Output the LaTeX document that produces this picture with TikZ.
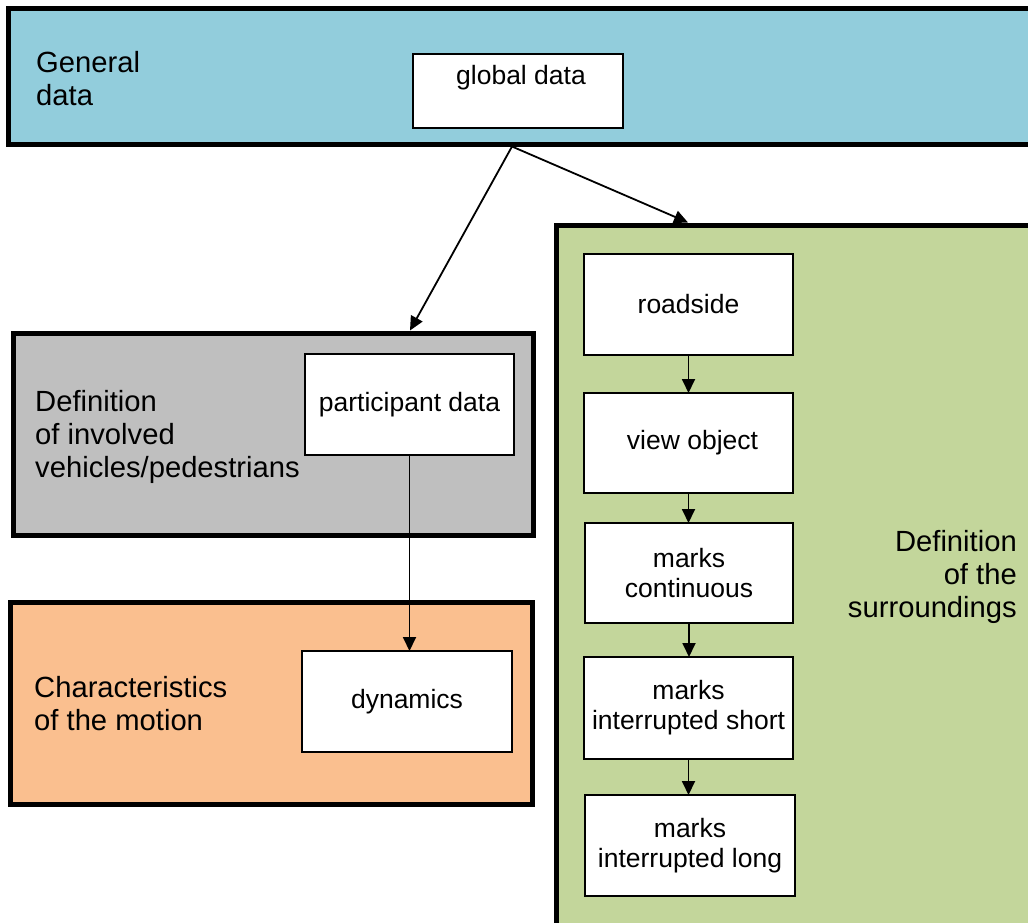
\documentclass[tikz,border=0pt]{standalone}
\usepackage{fontspec}
\setmainfont{Liberation Sans}
\usetikzlibrary{arrows.meta}
\definecolor{bluebg}{RGB}{146,205,220}
\definecolor{graybg}{RGB}{191,191,191}
\definecolor{orangebg}{RGB}{250,191,143}
\definecolor{greenbg}{RGB}{195,214,155}
\newcommand\myboxfont{\fontsize{26.5}{30}\selectfont}
\newcommand\mylblfont{\fontsize{29.2}{33}\selectfont}
\begin{document}
\begin{tikzpicture}[x=1pt,y=-1pt,
  group/.style={draw=black, line width=5pt, inner sep=0pt, outer sep=0pt, anchor=north west},
  box/.style={draw=black, fill=white, line width=2.5pt, inner sep=0pt, outer sep=0pt, align=center, font=\myboxfont},
  lbl/.style={font=\mylblfont, inner sep=0pt},
  conn/.style={line width=1.8pt, -{Triangle[length=14pt,width=13pt]}}]
\useasboundingbox (0,0) rectangle (1028,922);
\clip (0,0) rectangle (1028,922);
% group panels
\node[group, fill=bluebg, minimum width=1032pt, minimum height=136pt] (general) at (8,8) {};
\node[group, fill=graybg, minimum width=520pt, minimum height=202pt] (involved) at (13,333) {};
\node[group, fill=orangebg, minimum width=522pt, minimum height=202pt] (motion) at (10,602) {};
\node[group, fill=greenbg, minimum width=500pt, minimum height=720pt] (surround) at (556,225) {};
% group labels
\node[lbl, anchor=west, align=left] (lgeneral) at (36,78.5) {General\\data};
\node[lbl, anchor=west, align=left] (linvolved) at (35,437) {Definition\\of involved\\vehicles/pedestrians};
\node[lbl, anchor=west, align=left] (lmotion) at (34,703.5) {Characteristics\\of the motion};
\node[lbl, anchor=east, align=right] (lsurround) at (1017,577) {Definition\\of the\\surroundings};
% inner boxes
\node[box, minimum width=210pt, minimum height=74pt] (global) at (518,91) {};
\node[font=\myboxfont, inner sep=0pt] (globaltxt) at (521,78) {global data};
\node[box, minimum width=209pt, minimum height=101pt] (participant) at (409.5,404.5) {participant data};
\node[box, minimum width=210pt, minimum height=101pt] (dynamics) at (407,701.5) {dynamics};
\node[box, minimum width=209pt, minimum height=101pt] (roadside) at (688.5,304.5) {\raisebox{2pt}{roadside}};
\node[box, minimum width=209pt, minimum height=100pt] (view) at (688.5,443) {\hspace*{8pt}view object};
\node[box, minimum width=208pt, minimum height=100pt] (cont) at (689,573) {marks\\continuous};
\node[box, minimum width=209pt, minimum height=102pt] (short) at (688.5,708) {marks\\interrupted short};
\node[box, minimum width=210pt, minimum height=101pt] (long) at (690,845.5) {marks\\interrupted long};
% connectors
\coordinate (split) at (512,146.5);
\coordinate (involvedin) at (410,330.5);
\coordinate (surroundin) at (688,222.5);
\draw[conn] (split) -- (involvedin);
\draw[conn] (split) -- (surroundin);
\draw[conn] (participant.south) -- (participant.south |- dynamics.north);
\draw[conn] (roadside.south) -- (roadside.south |- view.north);
\draw[conn] (view.south) -- (view.south |- cont.north);
\draw[conn] (cont.south) -- (cont.south |- short.north);
\draw[conn] (short.south) -- (short.south |- long.north);
\end{tikzpicture}
\end{document}
